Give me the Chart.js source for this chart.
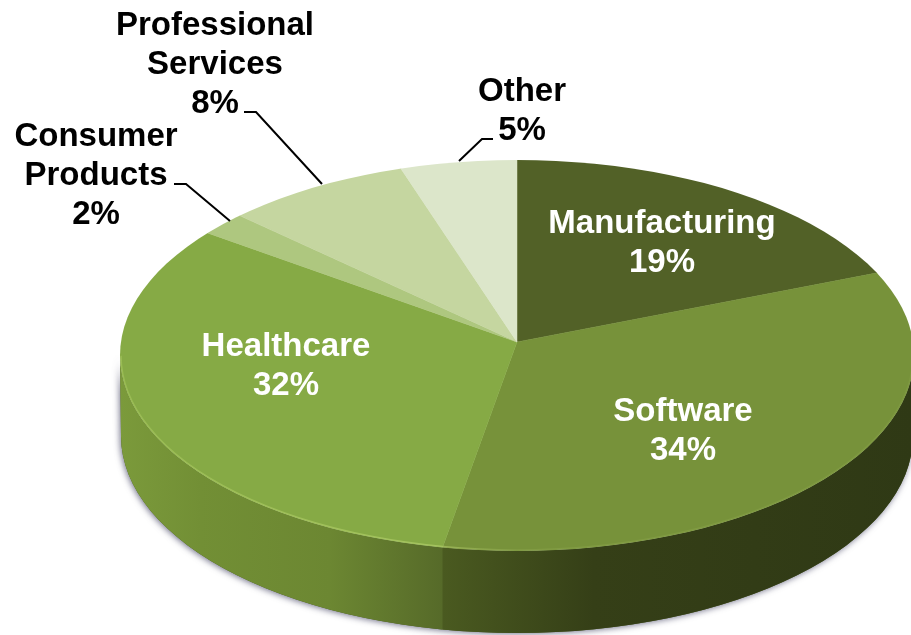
<!DOCTYPE html>
<html>
<head>
<meta charset="utf-8">
<style>
  html, body { margin: 0; padding: 0; background: #fff; overflow: hidden; }
  canvas { display: block; }
</style>
<script src="https://cdn.jsdelivr.net/npm/chart.js@4"></script>
</head>
<body>
<canvas id="pie" width="911" height="635"></canvas>
<script>
// Revenue share by sector
const categories = ['Manufacturing', 'Software', 'Healthcare', 'Consumer Products', 'Professional Services', 'Other'];
const shares = [19, 34, 32, 2, 8, 5];

// Slice and rim styling
const sliceColors = ['#526127', '#77923a', '#86aa45', '#aec77f', '#c5d6a0', '#dce6ca'];
const wallStops = [
  null,
  [[0, '#4a5a20'], [0.32, '#353f17'], [1, '#2f3915']],
  [[0, '#7b9a3b'], [0.25, '#728f35'], [0.65, '#6c8732'], [1, '#566a29']],
  null, null, null
];

// Tilted disc geometry
const apex = { x: 517, y: 342 };
const face = { x: 517, y: 355.5, rx: 397, ry: 195.5 };
const floor = { x: 517, y: 436, rx: 396, ry: 197 };
const tilt = { up: 0.485, down: 209 / 397 };

// Text placement: [centre x, first baseline, colour, lines wrapped by word]
const labelSpots = [
  [662, 233, '#fff', false],
  [683, 421, '#fff', false],
  [286, 356, '#fff', false],
  [96, 146, '#000', true],
  [215, 35, '#000', true],
  [522, 101, '#000', false]
];
const labelLeading = 39;
const leaders = [
  null, null, null,
  [[174, 184], [186, 184], [230, 221]],
  [[244, 112], [256, 112], [322, 184]],
  [[493, 139], [482, 139], [459, 161]]
];

// Where a slice boundary at this angle meets the rim of the top face
function rimPoint(angle) {
  const dx = Math.cos(angle);
  const dy = Math.sin(angle) * (Math.sin(angle) > 0 ? tilt.down : tilt.up);
  const ox = apex.x - face.x, oy = apex.y - face.y;
  const a = dx * dx / (face.rx * face.rx) + dy * dy / (face.ry * face.ry);
  const b = 2 * (ox * dx / (face.rx * face.rx) + oy * dy / (face.ry * face.ry));
  const c = ox * ox / (face.rx * face.rx) + oy * oy / (face.ry * face.ry) - 1;
  const t = (-b + Math.sqrt(b * b - 4 * a * c)) / (2 * a);
  return { x: apex.x + t * dx, y: apex.y + t * dy };
}

function wallPath(ctx) {
  ctx.beginPath();
  ctx.ellipse(face.x, face.y, face.rx, face.ry, 0, 0, Math.PI);
  ctx.ellipse(floor.x, floor.y, floor.rx, floor.ry, 0, Math.PI, 0, true);
  ctx.closePath();
}

const tiltedDisc = {
  id: 'tiltedDisc',
  // Side wall and its soft contact shadow
  beforeDatasetsDraw(chart) {
    const ctx = chart.ctx;
    ctx.save();
    ctx.shadowColor = 'rgba(70,70,100,0.75)';
    ctx.shadowBlur = 6;
    ctx.shadowOffsetX = -1;
    ctx.shadowOffsetY = 1;
    ctx.fillStyle = '#4a5a20';
    wallPath(ctx);
    ctx.fill();
    ctx.restore();

    chart.getDatasetMeta(0).data.forEach((arc, i) => {
      if (!wallStops[i]) return;
      let minX = Infinity, maxX = -Infinity;
      for (let k = 0; k <= 400; k++) {
        const p = rimPoint(arc.startAngle + (arc.endAngle - arc.startAngle) * k / 400);
        if (p.y >= face.y) { minX = Math.min(minX, p.x); maxX = Math.max(maxX, p.x); }
      }
      if (minX > maxX) return;
      const grad = ctx.createLinearGradient(minX, 0, maxX, 0);
      wallStops[i].forEach(([at, col]) => grad.addColorStop(at, col));
      ctx.save();
      ctx.beginPath();
      ctx.rect(minX, 0, maxX - minX, chart.height);
      ctx.clip();
      ctx.fillStyle = grad;
      wallPath(ctx);
      ctx.fill();
      ctx.restore();
    });
  },
  // The slices are flattened onto the top face: one scale above the apex, another below it
  beforeDatasetDraw(chart, args) {
    this.applyHalf(chart, args.meta, true);
  },
  afterDatasetDraw(chart, args) {
    const ctx = chart.ctx;
    ctx.restore();
    this.applyHalf(chart, args.meta, false);
    args.meta.controller.draw();
    ctx.restore();

    // Light bevel along the front of the rim, fading out towards the shaded side
    ctx.save();
    ctx.beginPath();
    ctx.rect(0, face.y, chart.width, chart.height);
    ctx.clip();
    const bevel = ctx.createLinearGradient(face.x - face.rx, 0, face.x + face.rx, 0);
    bevel.addColorStop(0, 'rgba(190,220,110,0.35)');
    bevel.addColorStop(0.4, 'rgba(200,225,125,0.45)');
    bevel.addColorStop(0.5, 'rgba(200,225,125,0.12)');
    bevel.addColorStop(1, 'rgba(200,225,125,0.08)');
    ctx.beginPath();
    ctx.ellipse(face.x, face.y, face.rx - 1, face.ry - 1, 0, 0, Math.PI);
    ctx.lineWidth = 1.5;
    ctx.strokeStyle = bevel;
    ctx.stroke();
    ctx.restore();
  },
  applyHalf(chart, meta, upper) {
    const ctx = chart.ctx;
    const arc = meta.data[0];
    const grow = 1.05 * face.rx / arc.outerRadius;
    ctx.save();
    ctx.beginPath();
    ctx.ellipse(face.x, face.y, face.rx, face.ry, 0, 0, Math.PI * 2);
    ctx.clip();
    ctx.beginPath();
    if (upper) ctx.rect(0, 0, chart.width, apex.y);
    else ctx.rect(0, apex.y, chart.width, chart.height - apex.y);
    ctx.clip();
    ctx.translate(apex.x, apex.y);
    ctx.scale(grow, grow * (upper ? tilt.up : tilt.down));
    ctx.translate(-arc.x, -arc.y);
  },
  // Leader lines and labels
  afterDraw(chart) {
    const ctx = chart.ctx;
    ctx.save();
    ctx.strokeStyle = '#000';
    ctx.lineWidth = 2;
    leaders.forEach(path => {
      if (!path) return;
      ctx.beginPath();
      path.forEach(([x, y], k) => k ? ctx.lineTo(x, y) : ctx.moveTo(x, y));
      ctx.stroke();
    });
    ctx.font = 'bold 33px "Liberation Sans", Arial, sans-serif';
    ctx.textAlign = 'center';
    ctx.textBaseline = 'alphabetic';
    categories.forEach((name, i) => {
      const [x, y, col, wrap] = labelSpots[i];
      const lines = (wrap ? name.split(' ') : [name]).concat(shares[i] + '%');
      ctx.fillStyle = col;
      lines.forEach((line, k) => ctx.fillText(line, x, y + k * labelLeading));
    });
    ctx.restore();
  }
};

new Chart(document.getElementById('pie'), {
  type: 'pie',
  data: {
    labels: categories,
    datasets: [{
      data: shares,
      backgroundColor: sliceColors,
      borderColor: sliceColors,
      borderWidth: 0.5,
      clip: false
    }]
  },
  options: {
    responsive: false,
    animation: false,
    layout: { padding: 0 },
    plugins: { legend: { display: false }, tooltip: { enabled: false } }
  },
  plugins: [tiltedDisc]
});
</script>
</body>
</html>
